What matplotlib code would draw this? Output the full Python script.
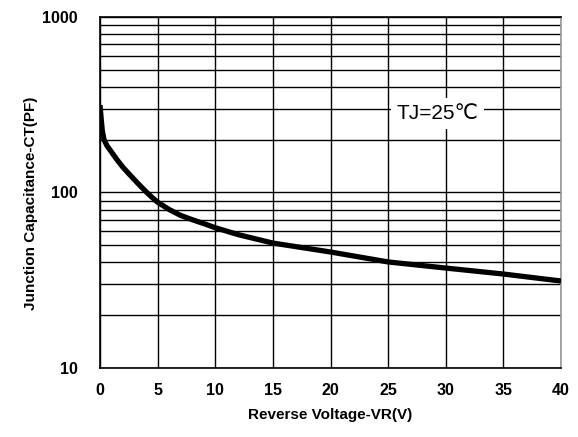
import matplotlib
matplotlib.use("Agg")
import matplotlib.pyplot as plt
from matplotlib.ticker import FixedLocator, NullFormatter

FONT = ['Liberation Sans', 'DejaVu Sans']

voltage = [0, 0.1, 0.2, 0.35, 0.6, 1, 1.5, 2, 2.5, 3, 3.5, 4, 4.5, 5, 6, 7, 8, 9,
           10, 12, 15, 20, 25, 30, 35, 40]
capacitance = [315, 265, 225, 200, 185, 170, 153, 139, 128, 118, 109, 101, 94, 88,
               80, 74, 70, 66.5, 63, 57.5, 51.5, 45.8, 40.2, 37.1, 34.3, 31.3]

x_ticks = [0, 5, 10, 15, 20, 25, 30, 35, 40]
y_major = [10, 100, 1000]
y_minor = [20, 30, 40, 50, 60, 70, 80, 90, 200, 300, 400, 500, 600, 700, 800, 900]

fig = plt.figure(figsize=(5.78, 4.37), dpi=100)
ax = fig.add_axes([0.173, 0.158, 0.7976, 0.803])

ax.set_yscale('log')
ax.set_xlim(0, 40)
ax.set_ylim(10, 1000)

ax.set_xticks(x_ticks)
ax.set_yticks(y_major)
ax.yaxis.set_minor_locator(FixedLocator(y_minor))
ax.yaxis.set_minor_formatter(NullFormatter())
ax.set_xticklabels([str(v) for v in x_ticks], fontsize=11.5, fontweight='bold', family=FONT)
ax.set_yticklabels([str(v) for v in y_major], fontsize=11.5, fontweight='bold', family=FONT)
ax.tick_params(axis='both', which='both', length=0)
ax.tick_params(axis='x', pad=11)
ax.tick_params(axis='y', pad=16)

ax.grid(True, which='major', color='black', linewidth=1.0)
ax.grid(True, which='minor', axis='y', color='black', linewidth=1.0)
ax.set_axisbelow(True)

for side in ['left', 'bottom', 'top']:
    ax.spines[side].set_color('black')
    ax.spines[side].set_linewidth(1.2)
ax.spines['right'].set_color('#999999')
ax.spines['right'].set_linewidth(1.2)

ax.plot(voltage, capacitance, color='black', linewidth=3.8, solid_capstyle='butt',
        solid_joinstyle='round', zorder=3)

ax.text(29.3, 282, 'TJ=25℃', fontsize=15, family=FONT, ha='center', va='center',
        bbox=dict(facecolor='white', edgecolor='none', pad=4), zorder=4)

ax.set_xlabel('Reverse Voltage-VR(V)', fontsize=11, fontweight='bold', family=FONT, labelpad=7)
ax.set_ylabel('Junction Capacitance-CT(PF)', fontsize=11, fontweight='bold', family=FONT, labelpad=10)
ax.yaxis.set_label_coords(-0.135, 0.47)

fig.savefig('out.png', dpi=100)
